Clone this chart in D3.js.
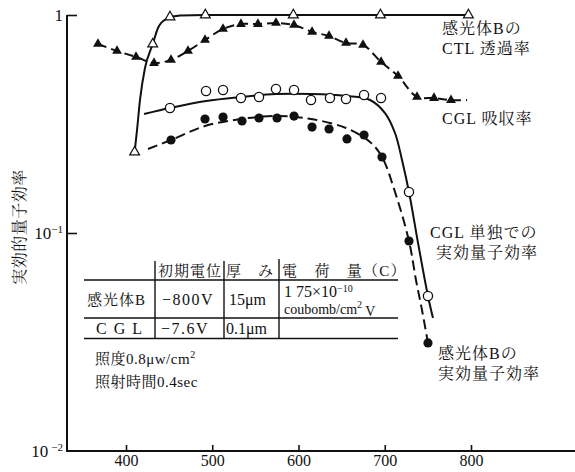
<!DOCTYPE html>
<html><head><meta charset="utf-8">
<script src="https://cdn.jsdelivr.net/npm/d3@7/dist/d3.min.js"></script>
<style>
body{margin:0;background:#fff;}
svg{display:block;}
text{font-family:"Liberation Serif","Noto Serif CJK JP","Noto Sans CJK JP",serif;fill:#111;}
</style></head>
<body>
<svg id="chart" width="575" height="472"></svg>
<script>
// ---- data ----
const xTicks = [400, 500, 600, 700, 800];
const yTicks = [1, 0.1, 0.01];

// 感光体B の CTL 透過率 (open triangles, solid line)
const ctlWl   = [410, 431, 451, 492, 594, 695, 797];
const ctlVal  = [0.235, 0.736, 0.979, 1.0, 1.0, 1.0, 1.0];
const ctlCurveWl  = [410, 412.8, 416.2, 422, 431, 437.1, 446.4, 462.6, 492, 594, 695, 797];
const ctlCurveVal = [0.235, 0.297, 0.407, 0.571, 0.736, 0.872, 0.958, 0.995, 1.0, 1.0, 1.0, 1.0];

// CGL 吸収率 (filled triangles, dashed line)
const absWl  = [367.5, 389.6, 411.6, 432.5, 452.2, 471.9, 491.6, 512.5, 533.3, 553, 573.9, 594.8, 615.7, 635.4, 655.1, 674.8, 695.7, 715.4, 737.4, 757.1, 776.8];
const absVal = [0.736, 0.684, 0.642, 0.602, 0.622, 0.684, 0.768, 0.863, 0.909, 0.909, 0.919, 0.900, 0.836, 0.801, 0.744, 0.729, 0.609, 0.525, 0.421, 0.416, 0.407];
const absCurveWl  = absWl.concat([795.4]);
const absCurveVal = absVal.concat([0.407]);

// CGL 単独での実効量子効率 (open circles, solid line)
const cglWl  = [451, 492.8, 512.5, 533.3, 554.2, 573.9, 594.8, 614.5, 636.5, 655.1, 676, 695.7, 728.1, 750.1];
const cglVal = [0.3745, 0.448, 0.453, 0.416, 0.4206, 0.4576, 0.453, 0.4074, 0.416, 0.4116, 0.4296, 0.416, 0.1542, 0.0514];
const cglCurveWl  = [420.9, 451, 492.8, 533.3, 573.9, 614.5, 655.1, 682.9, 700.3, 711.9, 720, 728.1, 738.6, 750.1, 755.9];
const cglCurveVal = [0.3515, 0.3745, 0.4032, 0.4206, 0.434, 0.434, 0.425, 0.4074, 0.355, 0.2875, 0.2163, 0.1542, 0.090, 0.0514, 0.0407];

// 感光体B の実効量子効率 (filled circles, dashed line)
const bWl  = [452.2, 491.6, 512.5, 534.5, 554.2, 575.1, 594.8, 615.7, 635.4, 656.2, 676, 696.8, 728.1, 750.1];
const bVal = [0.267, 0.3334, 0.3404, 0.3264, 0.337, 0.337, 0.344, 0.306, 0.300, 0.270, 0.2815, 0.2232, 0.0919, 0.0313];
const bCurveWl  = [425.5, 452.2, 491.6, 533.3, 573.9, 614.5, 655.1, 682.9, 696.8, 711.9, 728.1, 736.2, 743.2, 750.1];
const bCurveVal = [0.2428, 0.267, 0.3096, 0.3334, 0.344, 0.3334, 0.303, 0.2615, 0.2232, 0.1542, 0.0919, 0.0609, 0.0443, 0.0313];

// texts
const yTitle = "実効的量子効率";
const seriesLabels = [
  ["感光体Bの", "CTL 透過率"],
  ["CGL 吸収率"],
  ["CGL 単独での", "実効量子効率"],
  ["感光体Bの", "実効量子効率"]
];
const tableHeader = ["", "初期電位", "厚　み", "電　荷　量（C）"];
const tableRow1 = ["感光体B", "−800V", "15μm"];
const tableRow2 = ["C G L", "−7.6V", "0.1μm"];
const chargeLine1 = ["1 75×10", "−10"];
const chargeLine2 = ["coubomb/cm", "2", " V"];
const notes = [["照度0.8μw/cm", "2"], ["照射時間0.4sec", ""]];

// ---- drawing ----
const svg = d3.select("#chart");
const x = d3.scaleLinear().domain([400, 800]).range([126, 471]);
const y = d3.scaleLog().domain([0.01, 1]).range([451, 15]);
const X0 = 67;

const zip = (a, b) => a.map((v, i) => [v, b[i]]);
const lineM = d3.line().x(d => x(d[0])).y(d => y(d[1])).curve(d3.curveMonotoneX);
const lineC = d3.line().x(d => x(d[0])).y(d => y(d[1])).curve(d3.curveCatmullRom.alpha(0.5));

// axes
const xAxis = d3.axisBottom(x).tickValues(xTicks).tickSize(-6).tickPadding(4).tickFormat(d3.format("d"));
const gx = svg.append("g").attr("transform", "translate(0,451)").call(xAxis);
gx.select(".domain").remove();
gx.selectAll(".tick line").attr("stroke", "#111").attr("stroke-width", 1.6);
gx.selectAll("text").attr("font-size", 16).attr("fill", "#111").style("font-family", '"Liberation Serif",serif');
svg.append("line").attr("x1", X0).attr("x2", 575).attr("y1", 451).attr("y2", 451).attr("stroke", "#111").attr("stroke-width", 2);

const yAxis = d3.axisLeft(y).tickValues(yTicks).tickSize(-10).tickPadding(6).tickFormat(() => "");
const gy = svg.append("g").attr("transform", `translate(${X0},0)`).call(yAxis);
gy.select(".domain").remove();
gy.selectAll(".tick line").attr("stroke", "#111").attr("stroke-width", 1.6);
gy.selectAll(".tick").filter(d => d === 0.01).select("line").remove();
svg.append("line").attr("x1", X0).attr("x2", X0).attr("y1", 15).attr("y2", 452).attr("stroke", "#111").attr("stroke-width", 2);

gy.selectAll(".tick").each(function(d) {
  const t = d3.select(this).select("text").text(null).attr("font-size", 17).attr("text-anchor", "end").attr("dy", "0.35em").attr("x", -4);
  const e = Math.round(Math.log10(d));
  if (e === 0) { t.text("1"); }
  else {
    t.append("tspan").text("10");
    t.append("tspan").attr("font-size", 11).attr("dy", "-0.6em").attr("dx", e === -2 ? "3" : "0").text("−" + (-e));
  }
});

// y title
svg.append("text").attr("transform", "translate(25,227) rotate(-90)").attr("text-anchor", "middle")
  .attr("font-size", 16).attr("letter-spacing", 0.5).text(yTitle);

// curves
const lw = 2;
svg.append("path").datum(zip(ctlCurveWl, ctlCurveVal)).attr("d", lineM).attr("fill", "none").attr("stroke", "#111").attr("stroke-width", lw);
svg.append("path").datum(zip(absCurveWl, absCurveVal)).attr("d", lineC).attr("fill", "none").attr("stroke", "#111").attr("stroke-width", lw).attr("stroke-dasharray", "9,5");
svg.append("path").datum(zip(cglCurveWl, cglCurveVal)).attr("d", lineC).attr("fill", "none").attr("stroke", "#111").attr("stroke-width", lw);
svg.append("path").datum(zip(bCurveWl, bCurveVal)).attr("d", lineC).attr("fill", "none").attr("stroke", "#111").attr("stroke-width", lw).attr("stroke-dasharray", "10,5");

// markers
const tri = d3.symbol(d3.symbolTriangle).size(42);
svg.append("g").selectAll("path").data(zip(absWl, absVal)).join("path")
  .attr("d", tri).attr("transform", d => `translate(${x(d[0])},${y(d[1])})`).attr("fill", "#111");
svg.append("g").selectAll("path").data(zip(ctlWl, ctlVal)).join("path")
  .attr("d", tri).attr("transform", d => `translate(${x(d[0])},${y(d[1])})`).attr("fill", "#fff").attr("stroke", "#111").attr("stroke-width", 1.2);
svg.append("g").selectAll("circle").data(zip(cglWl, cglVal)).join("circle")
  .attr("cx", d => x(d[0])).attr("cy", d => y(d[1])).attr("r", 4.6).attr("fill", "#fff").attr("stroke", "#111").attr("stroke-width", 1.3);
svg.append("g").selectAll("circle").data(zip(bWl, bVal)).join("circle")
  .attr("cx", d => x(d[0])).attr("cy", d => y(d[1])).attr("r", 4.6).attr("fill", "#111");

// series labels
const labelPos = [[442, 34], [442, 124], [430, 238], [438, 359]];
seriesLabels.forEach((lines, i) => {
  lines.forEach((s, j) => {
    svg.append("text").attr("x", labelPos[i][0] + (i === 2 && j === 1 ? 6 : 0)).attr("y", labelPos[i][1] + j * 20)
      .attr("font-size", 16).attr("letter-spacing", 1).text(s);
  });
});

// table
const tg = svg.append("g");
const hl = (x1, x2, yy) => tg.append("line").attr("x1", x1).attr("x2", x2).attr("y1", yy).attr("y2", yy).attr("stroke", "#111").attr("stroke-width", 1.6);
const vl = (xx, y1, y2) => tg.append("line").attr("x1", xx).attr("x2", xx).attr("y1", y1).attr("y2", y2).attr("stroke", "#111").attr("stroke-width", 1.4);
hl(84, 398, 280); hl(84, 398, 318); hl(84, 398, 338.5);
vl(155, 261, 339); vl(224, 261, 339); vl(279, 259, 339);
const colX = [87, 158, 226, 282];
const tt = (xx, yy, s, fs, ls) => tg.append("text").attr("x", xx).attr("y", yy).attr("font-size", fs || 15).attr("letter-spacing", ls == null ? 1 : ls).text(s);
tt(colX[1], 276, tableHeader[1]);
tt(colX[2], 276, tableHeader[2]);
tt(colX[3], 276, tableHeader[3], 15, 1.2);
tt(colX[0], 305, tableRow1[0]);
tt(162, 305, tableRow1[1], 16, 1.5);
tt(229, 305, tableRow1[2], 16, 0);
tt(96, 334, tableRow2[0], 16, 1.5);
tt(161, 334, tableRow2[1], 16, 1.5);
tt(226, 334, tableRow2[2], 16, 0);
const c1 = tt(284, 297, chargeLine1[0], 16, 0);
c1.append("tspan").attr("font-size", 10).attr("dy", "-0.5em").text(chargeLine1[1]);
const c2 = tt(284, 314, chargeLine2[0], 14, 0);
c2.append("tspan").attr("font-size", 10).attr("dy", "-0.6em").text(chargeLine2[1]);
c2.append("tspan").attr("dy", "0.6em").text(chargeLine2[2]);
notes.forEach((n, i) => {
  const t = tt(95, 364 + i * 23, n[0], 15, 0.5);
  if (n[1]) t.append("tspan").attr("font-size", 10).attr("dy", "-0.6em").text(n[1]);
});
</script>
</body></html>
